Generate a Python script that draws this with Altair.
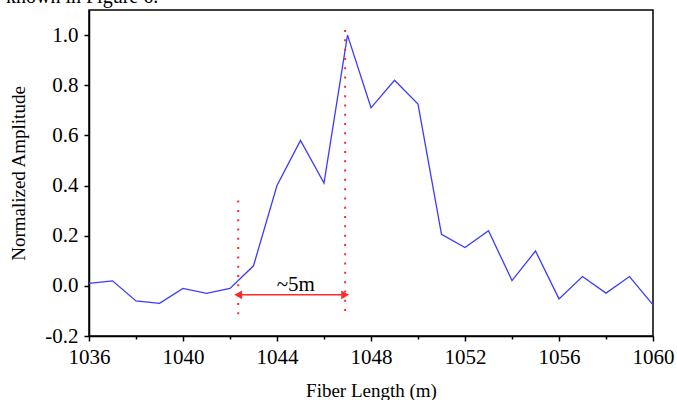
import altair as alt
import pandas as pd

# Normalized amplitude trace along the fibre
fiber_length = list(range(1036, 1061))
amplitude = [0.01, 0.02, -0.06, -0.07, -0.01, -0.03, -0.01, 0.08, 0.40, 0.58,
             0.41, 1.00, 0.71, 0.82, 0.725, 0.205, 0.153, 0.22, 0.021, 0.139,
             -0.052, 0.037, -0.029, 0.037, -0.076]

# Dotted markers bounding the ~5 m event
marker_x = [1042.35, 1046.9]
marker_top = [0.34, 1.02]
marker_bottom = [-0.12, -0.10]

# Double arrow between the markers
arrow_y = -0.036
arrow_label = "~5m"
arrow_label_x = 1044.8
arrow_label_y = -0.02

x_ticks = list(range(1036, 1061, 2))
y_ticks = [round(-0.2 + 0.1 * i, 1) for i in range(13)]

FONT = "Liberation Serif"
LINE = "#3b3bff"
RED = "#ff2a2a"

trace = pd.DataFrame({"x": fiber_length, "y": amplitude})
markers = pd.DataFrame({"x": marker_x, "y": marker_top, "y2": marker_bottom})
arrow = pd.DataFrame({"x": [marker_x[0]], "x2": [marker_x[1]], "y": [arrow_y]})
heads = pd.DataFrame({"x": marker_x, "y": [arrow_y, arrow_y],
                      "shape": ["triangle-left", "triangle-right"],
                      "off": [5, -5]})
label = pd.DataFrame({"x": [arrow_label_x], "y": [arrow_label_y], "t": [arrow_label]})

x_scale = alt.Scale(domain=[1036, 1060], nice=False, zero=False)
y_scale = alt.Scale(domain=[-0.2, 1.1], nice=False, zero=False)

x_axis = alt.Axis(
    title="Fiber Length (m)", values=x_ticks, grid=False,
    labelExpr="datum.value % 4 == 0 ? format(datum.value, 'd') : ''",
    tickSize={"condition": {"test": "datum.value % 4 == 0", "value": 5}, "value": 3},
    labelPadding=5, labelFlush=False, labelOverlap=False, labelBound=False,
    titleBaseline="alphabetic", titleY=60,
)
y_axis = alt.Axis(
    title="Normalized Amplitude", values=y_ticks, grid=False,
    labelExpr="round(datum.value * 10) % 2 == 0 ? replace(format(datum.value, '.1f'), '\u2212', '-') : ''",
    tickSize={"condition": {"test": "round(datum.value * 10) % 2 == 0", "value": 5}, "value": 3},
    labelPadding=6, labelFlush=False, labelOverlap=False, labelBound=False,
    titleX=-71, titleBaseline="middle",
)

line = alt.Chart(trace).mark_line(color=LINE, strokeWidth=1.3).encode(
    x=alt.X("x:Q", scale=x_scale, axis=x_axis),
    y=alt.Y("y:Q", scale=y_scale, axis=y_axis),
)

dotted = alt.Chart(markers).mark_rule(
    color=RED, strokeWidth=2, strokeDash=[2, 7.3]
).encode(x="x:Q", y="y:Q", y2="y2:Q")

shaft = alt.Chart(arrow).mark_rule(color=RED, strokeWidth=1.5).encode(
    x="x:Q", x2="x2:Q", y="y:Q"
)

tips = alt.Chart(heads).mark_point(
    filled=True, color=RED, size=80, opacity=1
).encode(
    x="x:Q", y="y:Q",
    shape=alt.Shape("shape:N", scale=None, legend=None),
    xOffset=alt.XOffset("off:Q", scale=None),
)

text = alt.Chart(label).mark_text(
    font=FONT, fontSize=21, color="black", baseline="alphabetic", align="center"
).encode(x="x:Q", y="y:Q", text="t:N")

caption = alt.Chart(pd.DataFrame({"t": ["known in Figure 6."]})).mark_text(
    font=FONT, fontSize=20, color="black", baseline="alphabetic", align="left"
).encode(x=alt.value(-83), y=alt.value(-7), text="t:N")

chart = alt.layer(line, dotted, shaft, tips, text, caption).properties(
    width=564, height=326,
    background="white",
    autosize=alt.AutoSizeParams(type="none"),
    padding={"left": 89, "top": 10, "right": 24, "bottom": 64},
).configure_view(
    stroke="black", strokeWidth=1.5
).configure_axis(
    labelFont=FONT, labelFontSize=21, labelColor="black",
    titleFont=FONT, titleFontSize=19, titleFontWeight="normal", titleColor="black",
    domainColor="black", domainWidth=1.5, tickColor="black", tickWidth=1.5,
)

chart.save("out.html", embed_options={"renderer": "svg", "actions": False})
